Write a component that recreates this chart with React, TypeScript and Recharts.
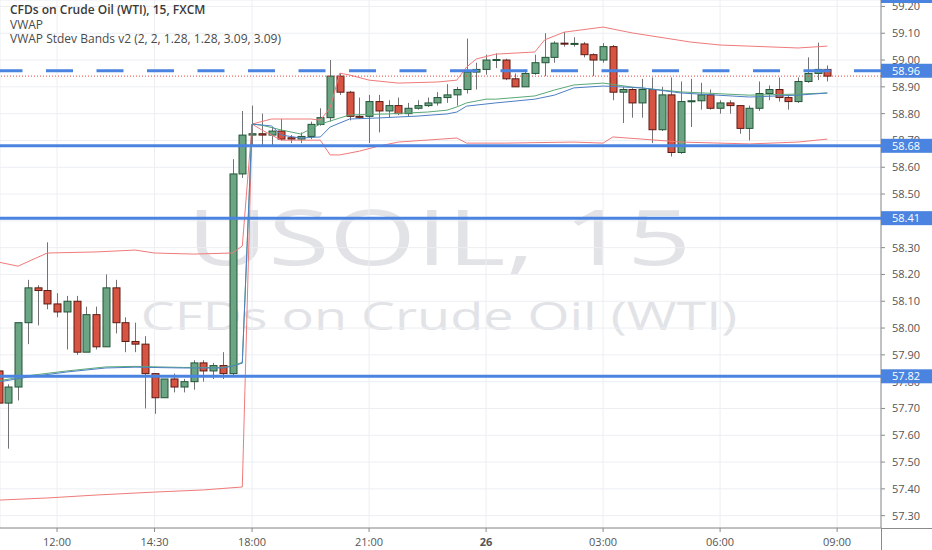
import React from 'react';
import {
  ComposedChart, Bar, Line, XAxis, YAxis, CartesianGrid, ReferenceLine,
} from 'recharts';

// 15 min candles, slot 0 = 12:00, market pause 17:00-18:00 skipped
const FIRST_SLOT = -6;

const OPEN = [
  57.84, 57.72, 57.78, 58.02, 58.15, 58.14, 58.09, 58.06, 58.10, 57.91,
  58.05, 57.93, 58.15, 58.02, 57.95, 57.94, 57.83, 57.74, 57.81, 57.78,
  57.80, 57.87, 57.84, 57.86, 57.83, 58.575, 58.72, 58.725, 58.72, 58.735,
  58.71, 58.705, 58.715, 58.76, 58.785, 58.94, 58.88, 58.79, 58.79, 58.845,
  58.81, 58.83, 58.80, 58.82, 58.83, 58.84, 58.86, 58.87, 58.89, 58.955,
  58.965, 59.00, 59.00, 58.93, 58.90, 58.95, 58.99, 59.01, 59.063, 59.06,
  59.06, 59.02, 59.00, 59.05, 58.88, 58.89, 58.84, 58.89, 58.74, 58.87,
  58.655, 58.845, 58.848, 58.87, 58.82, 58.84, 58.83, 58.745, 58.82, 58.875,
  58.89, 58.86, 58.845, 58.92, 58.95, 58.965,
];
const HIGH = [
  57.85, 57.79, 58.02, 58.18, 58.16, 58.32, 58.13, 58.12, 58.12, 58.08,
  58.08, 58.20, 58.18, 58.04, 58.02, 57.97, 57.83, 57.81, 57.83, 57.81,
  57.88, 57.88, 57.87, 57.91, 58.63, 58.81, 58.83, 58.80, 58.75, 58.78,
  58.72, 58.73, 58.77, 58.82, 59.00, 58.95, 58.885, 58.86, 58.87, 58.87,
  58.85, 58.86, 58.84, 58.85, 58.86, 58.88, 58.91, 58.90, 59.08, 58.99,
  59.02, 59.025, 59.005, 58.95, 58.965, 59.02, 59.10, 59.07, 59.105, 59.085,
  59.067, 59.025, 59.063, 59.056, 58.90, 58.895, 58.93, 58.935, 58.90, 58.935,
  58.92, 58.93, 58.915, 58.89, 58.85, 58.85, 58.83, 58.83, 58.92, 58.905,
  58.935, 58.87, 58.935, 59.01, 59.065, 58.98,
];
const LOW = [
  57.70, 57.55, 57.73, 57.94, 58.01, 58.07, 58.04, 57.92, 57.90, 57.91,
  57.92, 57.93, 57.98, 57.91, 57.91, 57.70, 57.68, 57.74, 57.76, 57.76,
  57.77, 57.80, 57.81, 57.81, 57.82, 58.56, 58.68, 58.68, 58.68, 58.70,
  58.69, 58.69, 58.705, 58.755, 58.77, 58.87, 58.775, 58.78, 58.69, 58.73,
  58.785, 58.795, 58.79, 58.815, 58.825, 58.83, 58.84, 58.83, 58.875, 58.89,
  58.945, 58.97, 58.925, 58.90, 58.90, 58.945, 58.94, 58.99, 59.05, 59.05,
  59.01, 58.94, 58.99, 58.85, 58.765, 58.785, 58.785, 58.69, 58.735, 58.64,
  58.65, 58.75, 58.815, 58.815, 58.80, 58.80, 58.725, 58.70, 58.81, 58.85,
  58.845, 58.815, 58.84, 58.915, 58.925, 58.92,
];
const CLOSE = [
  57.72, 57.78, 58.02, 58.15, 58.14, 58.09, 58.06, 58.10, 57.91, 58.05,
  57.93, 58.15, 58.02, 57.95, 57.94, 57.83, 57.74, 57.81, 57.78, 57.80,
  57.87, 57.84, 57.86, 57.83, 58.575, 58.72, 58.725, 58.72, 58.735, 58.705,
  58.705, 58.715, 58.76, 58.785, 58.94, 58.88, 58.79, 58.787, 58.845, 58.81,
  58.83, 58.80, 58.82, 58.83, 58.84, 58.86, 58.87, 58.89, 58.955, 58.965,
  59.00, 59.002, 58.93, 58.90, 58.95, 58.99, 59.01, 59.063, 59.06, 59.062,
  59.02, 59.00, 59.05, 58.88, 58.89, 58.84, 58.89, 58.74, 58.87, 58.655,
  58.845, 58.848, 58.87, 58.82, 58.84, 58.83, 58.745, 58.82, 58.875, 58.89,
  58.86, 58.845, 58.92, 58.95, 58.965, 58.94,
];

// indicator lines read at a few slots: [slot, price]
const VWAP = [
  [-6, 57.799], [-3, 57.817], [1, 57.836], [5, 57.851], [8, 57.854], [13, 57.851],
  [17, 57.851], [18, 57.858], [19, 57.869],
  [20, 58.761], [22, 58.754], [23, 58.72], [25, 58.709], [27, 58.713], [28, 58.75],
  [30, 58.78], [33, 58.784], [37, 58.791], [40, 58.799], [41, 58.806], [42, 58.828],
  [44, 58.836], [45, 58.84], [49, 58.854], [51, 58.869], [53, 58.896], [56, 58.903],
  [60, 58.896], [64, 58.877], [71, 58.862], [76, 58.869], [79, 58.877],
];
const BAND_MID = [
  [-6, 57.803], [-3, 57.822], [1, 57.84], [5, 57.855], [8, 57.857], [13, 57.853],
  [17, 57.853], [18, 57.86], [19, 57.872],
  [20, 58.761], [21, 58.757], [23, 58.739], [25, 58.724], [27, 58.761], [30, 58.795],
  [34, 58.799], [38, 58.806], [40, 58.813], [41, 58.825], [42, 58.84], [44, 58.854],
  [45, 58.854], [49, 58.866], [51, 58.888], [53, 58.907], [56, 58.914], [59, 58.899],
  [64, 58.881], [71, 58.869], [76, 58.873], [79, 58.877],
];
const BAND_UP = [
  [-6, 58.246], [-4, 58.231], [-1, 58.28], [4, 58.284], [8, 58.291], [10, 58.28],
  [14, 58.276], [18, 58.28], [19, 58.306],
  [20, 58.761], [22, 58.78], [26, 58.78], [27, 58.776], [28, 58.821], [29, 58.951],
  [30, 58.944], [32, 58.925], [35, 58.914], [39, 58.918], [41, 58.925], [42, 58.974],
  [43, 59.004], [45, 59.022], [49, 59.03], [50, 59.075], [52, 59.104], [56, 59.123],
  [59, 59.101], [65, 59.067], [68, 59.056], [76, 59.045], [79, 59.052],
];
const BAND_LO = [
  [-6, 57.358], [-1, 57.366], [4, 57.377], [10, 57.388], [15, 57.396], [19, 57.407],
  [20, 58.761], [21, 58.739], [23, 58.701], [27, 58.701], [28, 58.646], [29, 58.646],
  [31, 58.66], [33, 58.679], [35, 58.694], [41, 58.709], [42, 58.69], [46, 58.69],
  [53, 58.694], [56, 58.69], [57, 58.713], [60, 58.705], [64, 58.694], [71, 58.687],
  [76, 58.694], [79, 58.705],
];

const PRICE_TICKS = [
  57.3, 57.4, 57.5, 57.6, 57.7, 57.8, 57.9, 58.0, 58.1,
  58.2, 58.3, 58.4, 58.5, 58.6, 58.7, 58.8, 58.9, 59.0, 59.1, 59.2,
];
const TIME_TICKS = [0, 10, 20, 32, 44, 56, 68, 80];
const TIME_LABELS = ['12:00', '14:30', '18:00', '21:00', '26', '03:00', '06:00', '09:00'];
const LEVELS = [58.68, 58.41, 57.82];
const DASHED_LEVEL = 58.96;
const LAST_PRICE = 58.94;

const X_DOMAIN = [-5.85, 84.5];
const Y_DOMAIN = [57.254, 59.224];
const BLUE = '#4a84e0';
const AXIS = '#8a8a8a';
const FONT = '"Open Sans", "DejaVu Sans", sans-serif';

const data: any[] = OPEN.map((o, i) => ({
  slot: i + FIRST_SLOT,
  open: o,
  high: HIGH[i],
  low: LOW[i],
  close: CLOSE[i],
  range: [LOW[i], HIGH[i]],
}));
const put = (list: number[][], key: string) => {
  list.forEach(([s, v]) => { data[s - FIRST_SLOT][key] = v; });
};
put(VWAP, 'vwap');
put(BAND_MID, 'mid');
put(BAND_UP, 'up');
put(BAND_LO, 'lo');

const Candle = (props: any) => {
  const { x, y, width, height, payload } = props;
  if (!payload) return null;
  const top = Math.min(y, y + height);
  const h = Math.abs(height);
  const { open, close, high, low } = payload;
  const py = (p: number) => top + ((high - p) / (high - low)) * h;
  const up = close >= open;
  const bTop = py(Math.max(open, close));
  const bBot = py(Math.min(open, close));
  const cx = Math.round(x + width / 2) + 0.5;
  return (
    <g>
      <line x1={cx} x2={cx} y1={top} y2={top + h} stroke="#737375" strokeWidth={1} />
      <rect
        x={cx - 3.5}
        y={bTop}
        width={7}
        height={Math.max(bBot - bTop, 1)}
        fill={up ? '#6ba583' : '#d75442'}
        stroke={up ? '#225437' : '#5b1a13'}
        strokeWidth={1}
      />
    </g>
  );
};

const TimeTick = (props: any) => {
  const { x, y, payload } = props;
  const label = TIME_LABELS[TIME_TICKS.indexOf(payload.value)];
  return (
    <text x={x} y={y + 12} textAnchor="middle" fontSize={11} fill="#555"
      fontWeight={label === '26' ? 700 : 400} fontFamily={FONT}>
      {label}
    </text>
  );
};

const Tag = (props: any) => {
  const { viewBox, text } = props;
  const y = viewBox.y;
  return (
    <g>
      <rect x={881} y={y - 7} width={51} height={14} fill={BLUE} />
      <text x={892} y={y + 4} fontSize={11} fill="#fff" fontFamily={FONT}>{text}</text>
    </g>
  );
};

export default function App() {
  return (
    <div style={{ position: 'absolute', left: 0, top: 0, width: 932, height: 550, background: '#fff', fontFamily: FONT }}>
      {/* watermark, stretched like the screenshot */}
      <svg width={932} height={550} style={{ position: 'absolute', left: 0, top: 0 }}>
        <text x={439} y={265} textAnchor="middle" fontSize={77} fill="#e2e3e7" fontFamily={FONT}
          transform="translate(439 0) scale(1.45 1) translate(-439 0)">
          USOIL, 15
        </text>
        <text x={439} y={330} textAnchor="middle" fontSize={38} fill="#e2e3e7" fontFamily={FONT}
          transform="translate(439 0) scale(1.42 1) translate(-439 0)">
          CFDs on Crude Oil (WTI)
        </text>
      </svg>

      <div style={{ position: 'absolute', left: 0, top: 0 }}>
        <ComposedChart width={932} height={550} data={data} margin={{ top: 0, right: 0, bottom: 0, left: 0 }}>
          <CartesianGrid stroke="#eceef2" />
          <XAxis
            type="number" dataKey="slot" domain={X_DOMAIN} allowDataOverflow
            ticks={TIME_TICKS} interval={0} tick={<TimeTick />} height={22}
            stroke={AXIS} tickSize={4}
          />
          <YAxis
            orientation="right" domain={Y_DOMAIN} allowDataOverflow
            ticks={PRICE_TICKS} interval={0} width={51} tickSize={4} tickMargin={7}
            tickFormatter={(v: number) => v.toFixed(2)} stroke={AXIS}
            tick={{ fontSize: 11, fill: '#555', fontFamily: FONT }}
          />
          <Line dataKey="up" stroke="#f07a7a" strokeWidth={1} dot={false} connectNulls isAnimationActive={false} />
          <Line dataKey="lo" stroke="#f07a7a" strokeWidth={1} dot={false} connectNulls isAnimationActive={false} />
          <Line dataKey="mid" stroke="#5aa877" strokeWidth={1} dot={false} connectNulls isAnimationActive={false} />
          <Line dataKey="vwap" stroke="#4d7fc4" strokeWidth={1} dot={false} connectNulls isAnimationActive={false} />
          <Bar dataKey="range" barSize={8} shape={<Candle />} isAnimationActive={false} />
          <ReferenceLine y={LAST_PRICE} stroke="#e8453c" strokeDasharray="1 2" strokeWidth={1} />
        </ComposedChart>
      </div>

      {/* horizontal levels and their price tags, drawn above the price scale */}
      <div style={{ position: 'absolute', left: 0, top: 0, pointerEvents: 'none' }}>
        <ComposedChart width={932} height={550} data={data} margin={{ top: 0, right: 0, bottom: 0, left: 0 }}>
          <XAxis type="number" dataKey="slot" domain={X_DOMAIN} allowDataOverflow height={22}
            tick={false} axisLine={false} tickLine={false} />
          <YAxis orientation="right" domain={Y_DOMAIN} allowDataOverflow width={51}
            tick={false} axisLine={false} tickLine={false} />
          <ReferenceLine y={DASHED_LEVEL} stroke={BLUE} strokeWidth={3} strokeDasharray="27 23.5"
            label={<Tag text={DASHED_LEVEL.toFixed(2)} />} />
          {LEVELS.map((v) => (
            <ReferenceLine key={v} y={v} stroke={BLUE} strokeWidth={3} label={<Tag text={v.toFixed(2)} />} />
          ))}
        </ComposedChart>
      </div>

      {/* axis lines run on to the window edges */}
      <div style={{ position: 'absolute', left: 881, top: 528, width: 51, height: 1, background: AXIS }} />
      <div style={{ position: 'absolute', left: 881, top: 528, width: 1, height: 22, background: AXIS }} />
      {/* partial tag at the top of the price scale */}
      <div style={{ position: 'absolute', right: 0, top: 0, width: 51, height: 3, background: BLUE }} />

      <div style={{ position: 'absolute', left: 10, top: 3, fontSize: 12, lineHeight: '14.5px', color: '#4a4a4a' }}>
        <div style={{ fontWeight: 600, color: '#3a3a3a' }}>CFDs on Crude Oil (WTI), 15, FXCM</div>
        <div>VWAP</div>
        <div>VWAP Stdev Bands v2 (2, 2, 1.28, 1.28, 3.09, 3.09)</div>
      </div>
    </div>
  );
}
